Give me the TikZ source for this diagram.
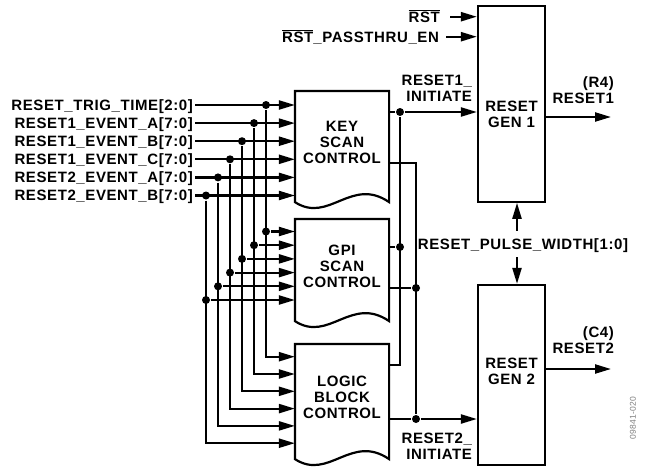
\documentclass[tikz,border=0pt]{standalone}
\usepackage{fontspec}
\setmainfont{Liberation Sans}[LetterSpace=4]
\usetikzlibrary{arrows.meta,calc}

\begin{document}
\begin{tikzpicture}[x=1pt, y=-1pt, >={Triangle[length=16pt,width=9pt]}, line width=2.2pt,
    font=\fontsize{15}{16}\selectfont\bfseries,
    dot/.style={circle, fill, inner sep=0pt, minimum size=8pt},
    block/.style={minimum width=92pt, inner sep=0pt, align=center},
    gen/.style={draw, minimum width=67pt, inner sep=0pt},
    txt/.style={inner sep=0pt, align=center},
    inlab/.style={anchor=east, inner xsep=1pt, inner ysep=0pt, text height=10.7pt, text depth=0pt}]
    \useasboundingbox (0,0) rectangle (645,471);

    % scan blocks
    \node[block, minimum height=101pt] (key) at (342,142.5) {KEY\\SCAN\\CONTROL};
    \node[block, minimum height=92pt] (gpi) at (342,266) {GPI\\SCAN\\CONTROL};
    \node[block, minimum height=105pt] (logic) at (342,397.5) {LOGIC\\BLOCK\\CONTROL};
    \foreach \b in {key,gpi,logic}
        \draw (\b.north east) -- (\b.north west) -- ($(\b.south west)+(0,8)$)
            .. controls +(34,22) and +(-38,-26) .. ($(\b.south east)+(0,8)$) -- cycle;

    % reset generators
    \node[gen, minimum height=196pt, label={[txt, yshift=-10.8pt]center:RESET\\GEN 1}] (gena) at (511.5,103.7) {};
    \node[gen, minimum height=180pt, label={[txt, yshift=4pt]center:RESET\\GEN 2}] (genb) at (511.5,375) {};

    % input bus
    \foreach \lab [count=\i from 0] in {RESET\_TRIG\_TIME[2:0], RESET1\_EVENT\_A[7:0], RESET1\_EVENT\_B[7:0],
            RESET1\_EVENT\_C[7:0], RESET2\_EVENT\_A[7:0], RESET2\_EVENT\_B[7:0]} {
        \node[inlab] (lab\i) at (195,{105+18.1*\i}) {\lab};
        \coordinate (bx\i) at ({266-12*\i},0);
        \node[dot] (kd\i) at (lab\i.east -| bx\i) {};
        \node[dot] (gd\i) at ({266-12*\i},{231.5+13.7*\i}) {};
        \coordinate (l\i) at ({266-12*\i},{356.7+17.3*\i});
        \draw[->] (lab\i.east) -- (lab\i.east -| key.west);
        \draw[->] (gd\i) -- (gd\i -| gpi.west);
        \draw[->] (kd\i) -- (l\i) -- (l\i -| logic.west);
    }

    % initiate lines
    \node[dot] (j1) at (400,112) {};
    \node[dot] (j2) at (400,247) {};
    \node[dot] (j3) at (416,288) {};
    \node[dot] (j4) at (416,419) {};
    \coordinate (c1) at (416,163);
    \coordinate (c2) at (400,365);
    \draw (j1 -| key.east) -- (j1);
    \draw[->] (j1) -- (j1 -| gena.west);
    \draw (j1) -- (c2) -- (c2 -| logic.east);
    \draw (c1 -| key.east) -- (c1) -- (j4);
    \draw (j2 -| gpi.east) -- (j2);
    \draw (j3 -| gpi.east) -- (j3);
    \draw (j4 -| logic.east) -- (j4);
    \draw[->] (j4) -- (j4 -| genb.west);
    \node[txt, anchor=south east, align=right] (ini1) at (473,103) {RESET1\_\\INITIATE};
    \node[txt, anchor=north east, align=right] (ini2) at (473,432) {RESET2\_\\INITIATE};

    % reset inputs
    \node[inlab, inner xsep=9pt] (rst) at (450,16.7) {$\overline{\mbox{RST}}$};
    \node[inlab, inner xsep=6pt] (pass) at (446,36.7) {$\overline{\mbox{RST}}$\_PASSTHRU\_EN};
    \draw[->] (rst.east) -- (rst.east -| gena.west);
    \draw[->] (pass.east) -- (pass.east -| gena.west);

    % pulse width
    \coordinate (pwx) at (517,0);
    \node[txt, inner ysep=7pt, text height=10.7pt, text depth=0pt] (pw) at (523,244) {RESET\_PULSE\_WIDTH[1:0]};
    \draw[->] (pw.north -| pwx) -- (pwx |- gena.south);
    \draw[->] (pw.south -| pwx) -- (pwx |- genb.north);

    % outputs
    \coordinate (r1) at (611,117);
    \coordinate (r2) at (611,369);
    \draw[->] (r1 -| gena.east) -- (r1);
    \draw[->] (r2 -| genb.east) -- (r2);
    \node[txt, anchor=south east, align=right] (out1) at (615,105) {(R4)\\RESET1};
    \node[txt, anchor=south east, align=right] (out2) at (615,355) {(C4)\\RESET2};

    \node[rotate=90, font=\fontsize{8.5}{9}\selectfont, text=gray] (fig) at (633,418) {09841-020};
\end{tikzpicture}
\end{document}
